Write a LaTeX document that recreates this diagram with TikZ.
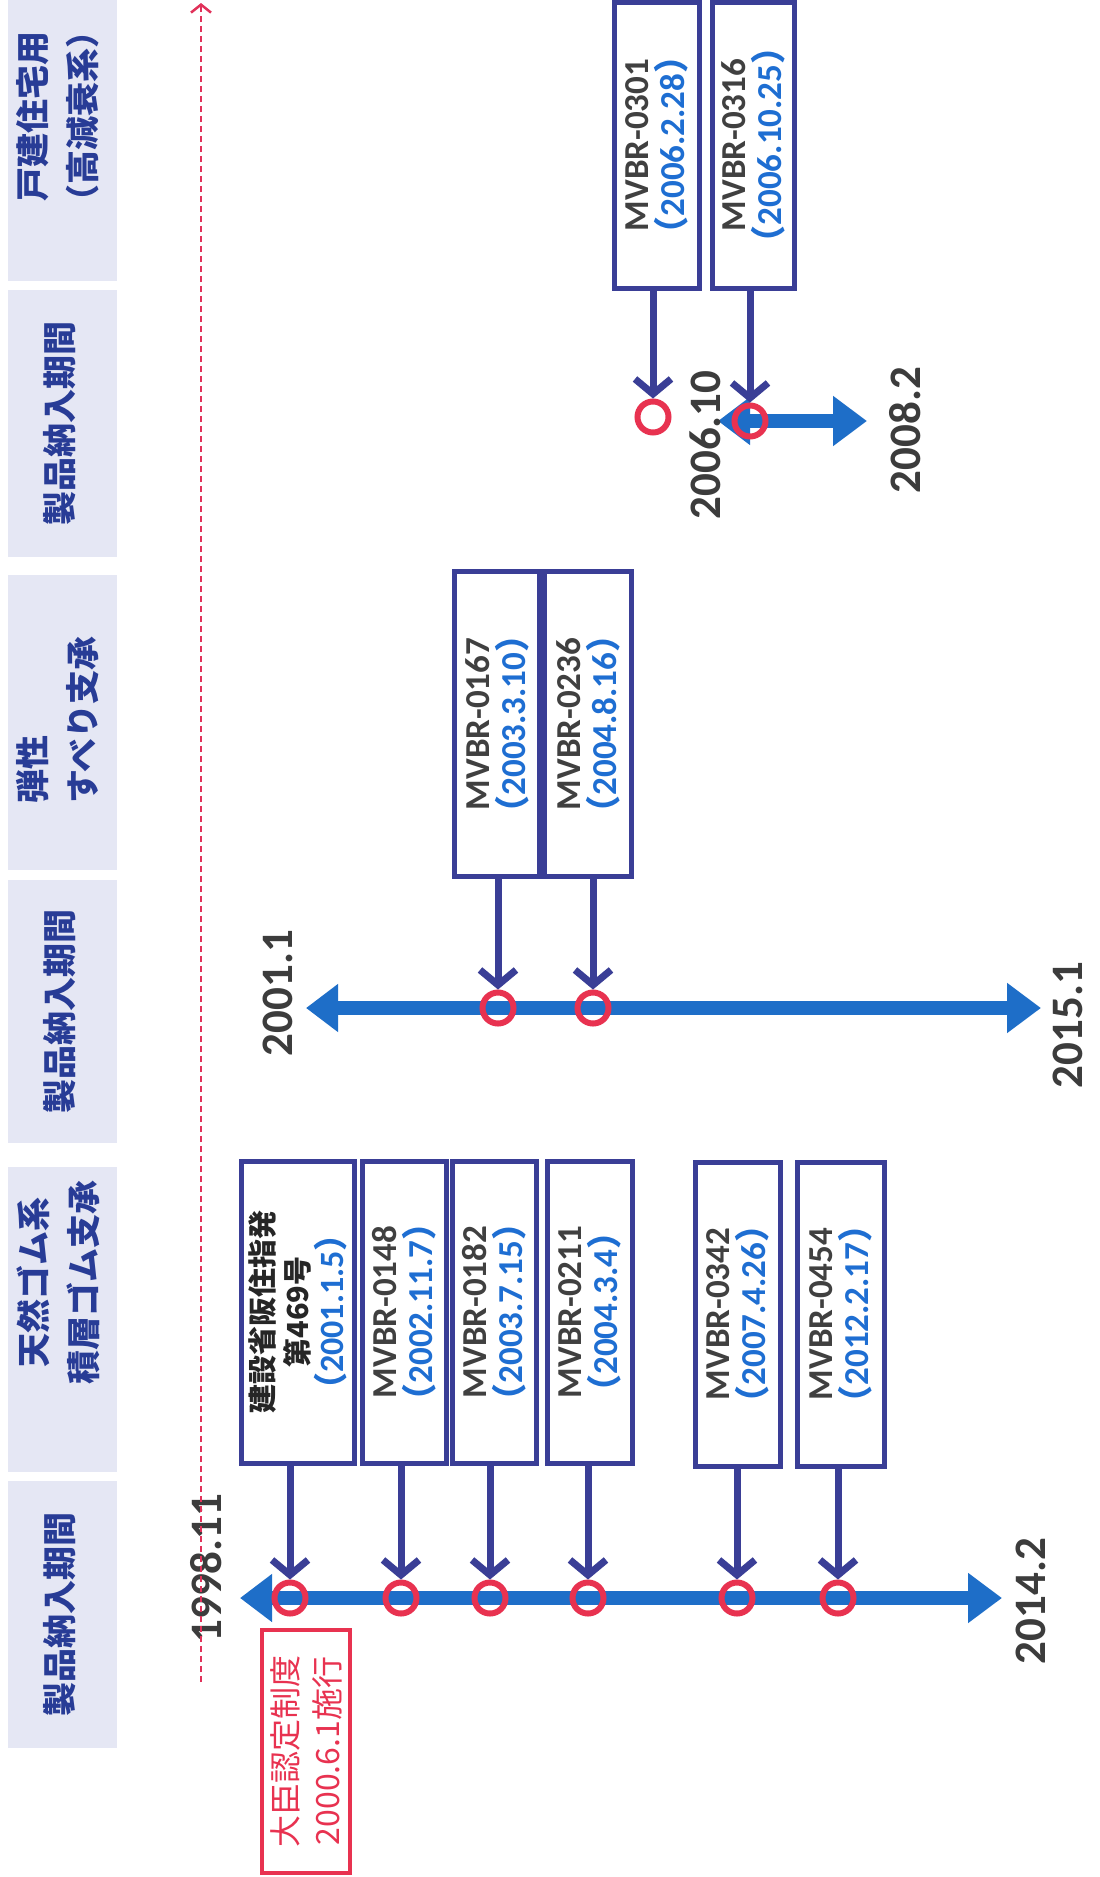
\documentclass[tikz,border=0pt]{standalone}
\usepackage{fontspec}
\setmainfont{Carlito}
\newfontfamily\jp{Noto Sans CJK JP}
\usetikzlibrary{arrows.meta}
\definecolor{navy}{RGB}{58,62,150}
\definecolor{tlblue}{RGB}{30,110,200}
\definecolor{ringred}{RGB}{232,50,80}
\definecolor{hdrbg}{RGB}{229,231,244}
\definecolor{hdrtxt}{RGB}{40,60,150}
\definecolor{yeargray}{RGB}{60,60,60}
\definecolor{dateblue}{RGB}{30,110,210}
\definecolor{idgray}{RGB}{64,64,64}
\definecolor{dashred}{RGB}{225,50,90}
\newcommand{\dt}[1]{{\color{dateblue}{\jp （}#1{\jp ）}}}
\begin{document}
\begin{tikzpicture}[x=1pt,y=-1pt,
  strip/.style={fill=hdrbg, draw=none, rotate=90, inner sep=0pt, minimum height=109},
  hdr/.style={rotate=90, inner sep=0pt,
    font=\jp\bfseries\fontsize{34}{50}\selectfont, text=hdrtxt, align=center},
  evbox/.style={draw=navy, line width=5, fill=white, rotate=90, align=center, inner sep=0pt,
    font=\bfseries\fontsize{35}{36}\selectfont, text=idgray},
  ring/.style={circle, draw=ringred, line width=6, minimum size=31, inner sep=0pt},
  conn/.style={draw=navy, line width=7, -{Straight Barb[length=15,width=36]}},
  tl/.style={draw=tlblue, line width=14, {Triangle[length=32,width=46]}-{Triangle[length=34,width=48]}},
  year/.style={rotate=90, font=\bfseries\fontsize{45}{45}\selectfont, text=yeargray, inner sep=0pt},
  redbox/.style={draw=ringred, line width=4, rotate=90, align=center, inner sep=0pt,
    font=\jp\fontsize{32}{42}\selectfont, text=ringred}]
\useasboundingbox (0,0) rectangle (1100,1877);
\fill[white] (0,0) rectangle (1100,1877);

% header strips
\node[strip, minimum width=281] (sA) at (62.5,140.5) {};
\node[strip, minimum width=267] (sB) at (62.5,423.5) {};
\node[strip, minimum width=295] (sC) at (62.5,722.5) {};
\node[strip, minimum width=263] (sD) at (62.5,1011.5) {};
\node[strip, minimum width=305] (sE) at (62.5,1319.5) {};
\node[strip, minimum width=267] (sF) at (62.5,1614.5) {};
\node[hdr] (hA) at (58,116) {戸建住宅用\\（高減衰系）};
\node[hdr] (hB) at (60,423.5) {製品納入期間};
\node[hdr, align=left] (hC) at (58,720) {弾性\\すべり支承};
\node[hdr] (hD) at (60,1011.5) {製品納入期間};
\node[hdr] (hE) at (58,1282) {天然ゴム系\\積層ゴム支承};
\node[hdr] (hF) at (60,1614.5) {製品納入期間};

% timeline 1
\coordinate (t1L) at (240,1598);
\coordinate (t1R) at (1002,1598);
\draw[tl] (t1L) -- (t1R);
\node[ring] (c1) at (290,1598) {};
\node[ring] (c2) at (401,1598) {};
\node[ring] (c3) at (490,1598) {};
\node[ring] (c4) at (588,1598) {};
\node[ring] (c5) at (737,1598) {};
\node[ring] (c6) at (838,1598) {};

\node[evbox, minimum width=302, minimum height=113,
  font=\jp\bfseries\fontsize{29}{35}\selectfont, text=black!85] (b1) at (298,1312)
  {建設省阪住指発\\第469号\\{\color{dateblue}\fontsize{34}{35}\selectfont（{\fontspec{Carlito}2001.1.5}）}};
\node[evbox, minimum width=302, minimum height=84] (b2) at (404,1312) {MVBR-0148\\\dt{2002.11.7}};
\node[evbox, minimum width=302, minimum height=84] (b3) at (494,1312) {MVBR-0182\\\dt{2003.7.15}};
\node[evbox, minimum width=302, minimum height=85] (b4) at (590,1312) {MVBR-0211\\\dt{2004.3.4}};
\node[evbox, minimum width=304, minimum height=85] (b5) at (738,1314) {MVBR-0342\\\dt{2007.4.26}};
\node[evbox, minimum width=304, minimum height=87] (b6) at (841,1314) {MVBR-0454\\\dt{2012.2.17}};
\foreach \i in {1,...,6} \draw[conn] (b\i.west -| c\i) -- (c\i.north);

\node[year] (y1) at (206,1568) {1998.11};
\node[year] (y2) at (1031,1601) {2014.2};
\node[redbox, minimum width=243, minimum height=88] (law) at (306,1751) {大臣認定制度\\2000.6.1施行};

% timeline 2
\coordinate (t2L) at (306,1008);
\coordinate (t2R) at (1041,1008);
\draw[tl] (t2L) -- (t2R);
\node[ring] (c7) at (498,1008) {};
\node[ring] (c8) at (593,1008) {};
\node[evbox, minimum width=305, minimum height=85] (b7) at (497,724) {MVBR-0167\\\dt{2003.3.10}};
\node[evbox, minimum width=305, minimum height=87] (b8) at (588,724) {MVBR-0236\\\dt{2004.8.16}};
\draw[conn] (b7.west -| c7) -- (c7.north);
\draw[conn] (b8.west -| c8) -- (c8.north);
\node[year] (y3) at (278,993) {2001.1};
\node[year] (y4) at (1068,1025) {2015.1};

% timeline 3
\coordinate (t3L) at (718,421);
\coordinate (t3R) at (867,421);
\draw[tl] (t3L) -- (t3R);
\node[ring] (c9) at (653,417) {};
\node[ring] (c10) at (750,421) {};
\node[evbox, minimum width=286, minimum height=85] (b9) at (657,145) {MVBR-0301\\\dt{2006.2.28}};
\node[evbox, minimum width=286, minimum height=82] (b10) at (753,145) {MVBR-0316\\\dt{2006.10.25}};
\draw[conn] (b9.west -| c9) -- (c9.north);
\draw[conn] (b10.west -| c10) -- (c10.north);
\node[year] (y5) at (705,445) {2006.10};
\node[year] (y6) at (905,430) {2008.2};

% red dashed reference line
\coordinate (dB) at (201,1682);
\coordinate (dT) at (201,3);
\draw[dashred, line width=2.5, dash pattern=on 6pt off 4pt, -{Straight Barb[length=8,width=20]}] (dB) -- (dT);
\end{tikzpicture}
\end{document}
